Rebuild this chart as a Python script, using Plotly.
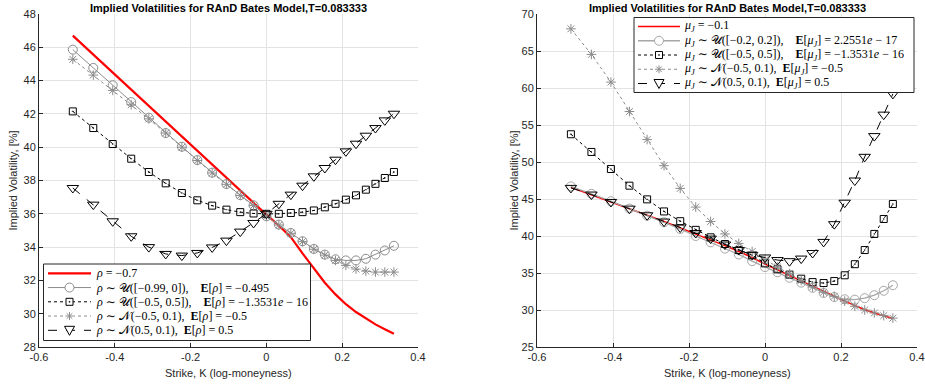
import plotly.graph_objects as go

# ---------------- data ----------------
K_LOG = [-0.5108, -0.4568, -0.4055, -0.3567, -0.3102, -0.2657, -0.2231, -0.1823,
         -0.1431, -0.1054, -0.0690, -0.0339, 0.0, 0.0328, 0.0645, 0.0953, 0.1252,
         0.1542, 0.1823, 0.2097, 0.2364, 0.2624, 0.2877, 0.3124, 0.3365]

# left panel (rho randomisation)
RHO_FIXED = [46.70, 45.56, 44.49, 43.46, 42.48, 41.54, 40.64, 39.78, 38.96, 38.16,
             37.40, 36.66, 35.95, 35.30, 34.60, 33.62, 32.69, 31.86, 31.16, 30.57,
             30.10, 29.70, 29.36, 29.07, 28.80]
RHO_U1 = [45.86, 44.76, 43.72, 42.71, 41.77, 40.85, 40.03, 39.23, 38.47, 37.79,
          37.12, 36.51, 35.85, 35.35, 34.85, 34.35, 33.89, 33.55, 33.27, 33.20,
          33.20, 33.30, 33.55, 33.80, 34.08]
RHO_U2 = [42.15, 41.15, 40.19, 39.31, 38.51, 37.83, 37.25, 36.81, 36.49, 36.25,
          36.10, 36.02, 36.00, 36.00, 36.05, 36.10, 36.20, 36.39, 36.60, 36.85,
          37.11, 37.45, 37.80, 38.15, 38.51]
RHO_N1 = [45.28, 44.33, 43.41, 42.55, 41.70, 40.85, 40.00, 39.20, 38.45, 37.77,
          37.10, 36.50, 35.85, 35.33, 34.83, 34.33, 33.87, 33.52, 33.20, 32.90,
          32.68, 32.56, 32.50, 32.50, 32.50]
RHO_N2 = [37.55, 36.55, 35.55, 34.65, 34.00, 33.59, 33.49, 33.65, 33.98, 34.39,
          34.93, 35.45, 36.00, 36.60, 37.15, 37.69, 38.25, 38.75, 39.25, 39.75,
          40.21, 40.69, 41.15, 41.61, 42.01]

# right panel (mu_J randomisation)
MU_FIXED = [46.60, 45.60, 44.65, 43.70, 42.80, 41.95, 41.10, 40.30, 39.50, 38.70,
            37.90, 37.10, 36.20, 35.40, 34.65, 33.90, 33.20, 32.50, 31.85, 31.20,
            30.60, 30.05, 29.60, 29.20, 28.85]
MU_U1 = [46.70, 45.70, 44.70, 43.70, 42.75, 41.85, 40.95, 40.00, 39.15, 38.30,
         37.50, 36.60, 35.80, 35.10, 34.35, 33.70, 33.00, 32.30, 31.75, 31.45,
         31.40, 31.60, 32.00, 32.60, 33.35]
MU_U2 = [53.75, 51.36, 49.05, 46.80, 44.95, 43.32, 42.00, 40.83, 39.82, 38.92,
         38.10, 37.40, 36.30, 35.50, 34.78, 34.23, 33.77, 33.64, 33.91, 34.69,
         36.19, 38.10, 40.28, 42.30, 44.32]
MU_N1 = [68.00, 64.54, 60.80, 56.82, 53.03, 49.50, 46.43, 43.91, 41.96, 40.28,
         39.00, 37.90, 36.80, 35.80, 34.90, 34.00, 33.10, 32.40, 31.85, 31.20,
         30.50, 30.00, 29.60, 29.24, 28.90]
MU_N2 = [46.50, 45.60, 44.60, 43.70, 42.80, 41.95, 41.15, 40.40, 39.65, 38.85,
         38.10, 37.45, 37.10, 36.75, 36.60, 36.95, 37.70, 39.20, 41.60, 44.50,
         47.50, 50.70, 53.50, 56.40, 59.20]

LEFT_NAMES = [
    "<i>ρ</i> = −0.7",
    "<i>ρ</i> ∼ 𝒰([−0.99, 0]),    <b>E</b>[<i>ρ</i>] = −0.495",
    "<i>ρ</i> ∼ 𝒰([−0.5, 0.5]),    <b>E</b>[<i>ρ</i>] = −1.3531<i>e</i> − 16",
    "<i>ρ</i> ∼ 𝒩(−0.5, 0.1),  <b>E</b>[<i>ρ</i>] = −0.5",
    "<i>ρ</i> ∼ 𝒩(0.5, 0.1),  <b>E</b>[<i>ρ</i>] = 0.5",
]
RIGHT_NAMES = [
    "<i>μ<sub>J</sub></i> = −0.1",
    "<i>μ<sub>J</sub></i> ∼ 𝒰([−0.2, 0.2]),    <b>E</b>[<i>μ<sub>J</sub></i>] = 2.2551<i>e</i> − 17",
    "<i>μ<sub>J</sub></i> ∼ 𝒰([−0.5, 0.5]),    <b>E</b>[<i>μ<sub>J</sub></i>] = −1.3531<i>e</i> − 16",
    "<i>μ<sub>J</sub></i> ∼ 𝒩(−0.5, 0.1),  <b>E</b>[<i>μ<sub>J</sub></i>] = −0.5",
    "<i>μ<sub>J</sub></i> ∼ 𝒩(0.5, 0.1),  <b>E</b>[<i>μ<sub>J</sub></i>] = 0.5",
]

X_TICKS = [-0.6, -0.4, -0.2, 0, 0.2, 0.4]
X_TICKTEXT = ["-0.6", "-0.4", "-0.2", "0", "0.2", "0.4"]
Y1_TICKS = [28, 30, 32, 34, 36, 38, 40, 42, 44, 46, 48]
Y2_TICKS = [25, 30, 35, 40, 45, 50, 55, 60, 65, 70]

TITLE = "Implied Volatilities for RAnD Bates Model,T=0.083333"
XLABEL = "Strike, K (log-moneyness)"
YLABEL = "Implied Volatility, [%]"

# ---------------- figure ----------------
W, H = 925, 392
AX_COL = "#262626"
GRID = "#e3e3e3"
GRAY = "#8c8c8c"
LGRAY = "#a6a6a6"


def X(p):
    return p / W


def Y(p):
    return 1 - p / H


fig = go.Figure()


def styles_for(red_w, circ_col, circ_w):
    return [
        dict(line=dict(color="#ff0000", width=red_w), sym=None, mcol="#ff0000"),
        dict(line=dict(color=circ_col, width=circ_w), sym="circle-open", size=9, mcol=circ_col),
        dict(line=dict(color="#000000", width=1, dash="dot"), sym="square-open-dot", size=7, mcol="#000000"),
        dict(line=dict(color=GRAY, width=1, dash="dot"), sym="asterisk-open", size=8, mcol=GRAY),
        dict(line=dict(color="#000000", width=1, dash="dash"), sym="triangle-down-open", size=10, mcol="#000000"),
    ]


def add_panel(xa, ya, names, series, styles):
    for name, ys, st in zip(names, series, styles):
        kw = dict(x=K_LOG, y=ys, name=name, xaxis=xa, yaxis=ya, showlegend=False,
                  line=st["line"])
        if st["sym"] is None:
            kw["mode"] = "lines"
        else:
            kw["mode"] = "lines+markers"
            kw["marker"] = dict(symbol=st["sym"], size=st["size"], color=st["mcol"],
                                line=dict(width=1, color=st["mcol"]))
        fig.add_trace(go.Scatter(**kw))


LSTY = styles_for(2.2, GRAY, 1)
RSTY = styles_for(1.6, LGRAY, 1.3)
add_panel("x", "y", LEFT_NAMES, [RHO_FIXED, RHO_U1, RHO_U2, RHO_N1, RHO_N2], LSTY)
add_panel("x2", "y2", RIGHT_NAMES, [MU_FIXED, MU_U1, MU_U2, MU_N1, MU_N2], RSTY)

shapes = []
annotations = []


def draw_legend(box, row0, dy, lx0, lx1, mx, tx, names, styles):
    bx0, by0, bx1, by1 = box
    shapes.append(dict(type="rect", xref="paper", yref="paper", x0=X(bx0), x1=X(bx1),
                       y0=Y(by1), y1=Y(by0), line=dict(color=AX_COL, width=1),
                       fillcolor="white", layer="above"))
    for i, (name, st) in enumerate(zip(names, styles)):
        cy = row0 + i * dy
        shapes.append(dict(type="line", xref="paper", yref="paper", x0=X(lx0), x1=X(lx1),
                           y0=Y(cy), y1=Y(cy), line=st["line"], layer="above"))
        c = st["mcol"]
        s = st["sym"]
        if s == "circle-open":
            r = 4.5
            shapes.append(dict(type="circle", xref="paper", yref="paper", x0=X(mx - r), x1=X(mx + r),
                               y0=Y(cy + r), y1=Y(cy - r), line=dict(color=c, width=1),
                               fillcolor="white", layer="above"))
        elif s == "square-open-dot":
            r = 3.5
            shapes.append(dict(type="rect", xref="paper", yref="paper", x0=X(mx - r), x1=X(mx + r),
                               y0=Y(cy + r), y1=Y(cy - r), line=dict(color=c, width=1),
                               fillcolor="white", layer="above"))
            d = 0.7
            shapes.append(dict(type="rect", xref="paper", yref="paper", x0=X(mx - d), x1=X(mx + d),
                               y0=Y(cy + d), y1=Y(cy - d), line=dict(width=0),
                               fillcolor=c, layer="above"))
        elif s == "asterisk-open":
            r = 4.0
            q = 2.8
            pth = (f"M{X(mx)},{Y(cy - r)} L{X(mx)},{Y(cy + r)} "
                   f"M{X(mx - r)},{Y(cy)} L{X(mx + r)},{Y(cy)} "
                   f"M{X(mx - q)},{Y(cy - q)} L{X(mx + q)},{Y(cy + q)} "
                   f"M{X(mx - q)},{Y(cy + q)} L{X(mx + q)},{Y(cy - q)}")
            shapes.append(dict(type="rect", xref="paper", yref="paper", x0=X(mx - r), x1=X(mx + r),
                               y0=Y(cy + r), y1=Y(cy - r), line=dict(width=0),
                               fillcolor="white", layer="above"))
            shapes.append(dict(type="path", xref="paper", yref="paper", path=pth,
                               line=dict(color=c, width=1), layer="above"))
        elif s == "triangle-down-open":
            pth = (f"M{X(mx - 5)},{Y(cy - 4)} L{X(mx + 5)},{Y(cy - 4)} "
                   f"L{X(mx)},{Y(cy + 5)} Z")
            shapes.append(dict(type="path", xref="paper", yref="paper", path=pth,
                               line=dict(color=c, width=1), fillcolor="white", layer="above"))
        annotations.append(dict(text=name, x=X(tx), y=Y(cy), xref="paper", yref="paper",
                                showarrow=False, xanchor="left", yanchor="middle",
                                font=dict(family="Liberation Serif, DejaVu Serif", size=12,
                                          color="#000000")))


draw_legend((43.5, 264, 310.5, 340.5), 273.3, 14.25, 48, 91, 69.5, 94, LEFT_NAMES, LSTY)
draw_legend((634, 17.5, 914, 92.5), 26.5, 14.25, 638, 680, 659, 682, RIGHT_NAMES, RSTY)

ann_font = dict(family="Liberation Sans, Arial", size=11, color=AX_COL)
for cx, lx in [((39 + 418) / 2, 12), ((537 + 917) / 2, 513)]:
    annotations.append(dict(text="<b>" + TITLE + "</b>", x=X(cx), y=Y(0), xref="paper", yref="paper",
                            showarrow=False, xanchor="center", yanchor="top",
                            font=dict(family="Liberation Sans, Arial", size=11, color="#000000")))
    annotations.append(dict(text=XLABEL, x=X(cx), y=Y(373), xref="paper", yref="paper",
                            showarrow=False, xanchor="center", yanchor="middle", font=ann_font))
    annotations.append(dict(text=YLABEL, x=X(lx), y=Y(180.5), xref="paper", yref="paper",
                            showarrow=False, xanchor="center", yanchor="middle", textangle=-90,
                            font=ann_font))

axis_common = dict(showgrid=True, gridcolor=GRID, gridwidth=1, zeroline=False,
                   showline=True, linecolor=AX_COL, linewidth=1, ticks="inside",
                   ticklen=4, tickcolor=AX_COL, automargin=False,
                   tickfont=dict(family="Liberation Sans, Arial", size=11, color=AX_COL))

fig.update_layout(
    width=W, height=H, margin=dict(l=0, r=0, t=0, b=0, autoexpand=False),
    paper_bgcolor="white", plot_bgcolor="white",
    showlegend=False,
    xaxis=dict(domain=[X(39), X(418)], range=[-0.6, 0.4], anchor="y",
               tickvals=X_TICKS, ticktext=X_TICKTEXT, **axis_common),
    yaxis=dict(domain=[Y(347), Y(14)], range=[28, 48], anchor="x",
               tickvals=Y1_TICKS, **axis_common),
    xaxis2=dict(domain=[X(537), X(917)], range=[-0.6, 0.4], anchor="y2",
                tickvals=X_TICKS, ticktext=X_TICKTEXT, **axis_common),
    yaxis2=dict(domain=[Y(347), Y(14)], range=[25, 70], anchor="x2",
                tickvals=Y2_TICKS, **axis_common),
    shapes=shapes,
    annotations=annotations,
)

fig.write_html("out.html", config={"displayModeBar": False},
               post_script="document.body.style.margin='0px';document.body.style.overflow='hidden';")
